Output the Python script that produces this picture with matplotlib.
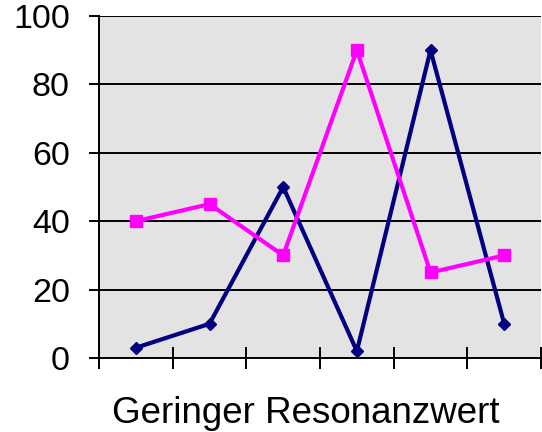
import matplotlib.pyplot as plt
import numpy as np

plt.rcParams['font.family'] = ['Liberation Sans', 'DejaVu Sans']

# --- Données ---
categories = np.arange(6)
serie_bleue = [3, 10, 50, 2, 90, 10]
serie_rose = [40, 45, 30, 90, 25, 30]
yticks = [0, 20, 40, 60, 80, 100]
xlabel = 'Geringer Resonanzwert'

fig = plt.figure(figsize=(5.42, 4.32), dpi=100)
ax = fig.add_axes([0.1827, 0.1713, 0.8155, 0.7917])
ax.set_facecolor('#e3e3e3')

for y in yticks[1:]:
    ax.axhline(y, color='black', lw=1.4, zorder=1)

ax.plot(categories, serie_bleue, color='#000080', lw=3, marker='D', ms=6,
        zorder=3, clip_on=False)
ax.plot(categories, serie_rose, color='#ff00ff', lw=3, marker='s', ms=8,
        zorder=3, clip_on=False)

ax.set_xlim(-0.5, 5.5)
ax.set_ylim(0, 100)
ax.set_xticks(np.arange(-0.5, 6.0, 1.0))
ax.set_xticklabels([])
ax.set_yticks(yticks)
ax.tick_params(axis='x', direction='inout', length=16, width=1.4, color='black')
ax.tick_params(axis='y', direction='out', length=7, width=1.4, labelsize=24.5, pad=14)

for s in ['top', 'right']:
    ax.spines[s].set_visible(False)
for s in ['left', 'bottom']:
    ax.spines[s].set_linewidth(1.4)

ax.set_xlabel(xlabel, fontsize=26.5)
ax.xaxis.set_label_coords(0.468, -0.11, transform=ax.transAxes)
ax.xaxis.label.set_va('top')

fig.savefig('out.png', dpi=100)
